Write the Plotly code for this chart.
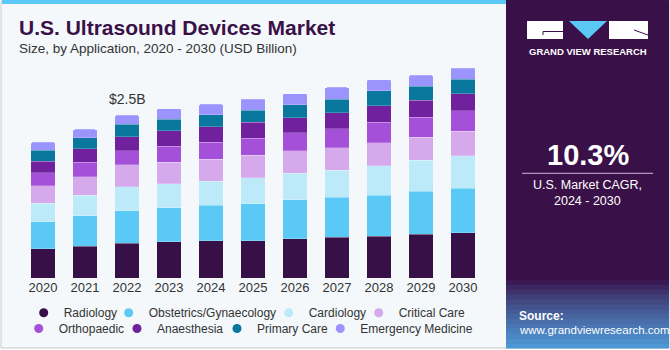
import plotly.graph_objects as go

years = ["2020", "2021", "2022", "2023", "2024", "2025", "2026", "2027", "2028", "2029", "2030"]
radiology = [0.45, 0.49, 0.54, 0.56, 0.58, 0.58, 0.61, 0.63, 0.65, 0.68, 0.70]
obstetrics = [0.42, 0.47, 0.50, 0.53, 0.55, 0.57, 0.60, 0.62, 0.63, 0.66, 0.69]
cardiology = [0.29, 0.32, 0.37, 0.37, 0.37, 0.40, 0.41, 0.42, 0.46, 0.48, 0.50]
critical_care = [0.27, 0.29, 0.34, 0.33, 0.34, 0.35, 0.35, 0.35, 0.35, 0.36, 0.38]
orthopaedic = [0.20, 0.22, 0.22, 0.25, 0.26, 0.26, 0.28, 0.29, 0.32, 0.31, 0.32]
anaesthesia = [0.18, 0.21, 0.22, 0.24, 0.24, 0.25, 0.23, 0.25, 0.26, 0.26, 0.26]
primary_care = [0.17, 0.17, 0.19, 0.18, 0.19, 0.19, 0.20, 0.21, 0.23, 0.22, 0.23]
emergency = [0.12, 0.13, 0.14, 0.16, 0.16, 0.17, 0.17, 0.18, 0.17, 0.17, 0.17]

series_names = ["Radiology", "Obstetrics/Gynaecology", "Cardiology", "Critical Care",
                "Orthopaedic", "Anaesthesia", "Primary Care", "Emergency Medicine"]
series_values = [radiology, obstetrics, cardiology, critical_care,
                 orthopaedic, anaesthesia, primary_care, emergency]
series_colors = ["#371047", "#5BC9F6", "#BDEAF9", "#D6A8EC",
                 "#A550D8", "#71219D", "#0A779E", "#9B94FC"]

highlight_year = "2022"
highlight_label = "$2.5B"
cagr_text = "10.3%"

W, H = 670, 350
L, R, T, B = 22, 484, 60, 278  # plot area in pixels


def px(x):
    return (x - L) / (R - L)


def py(y):
    return (B - y) / (B - T)


FONT = "Liberation Sans, Arial, sans-serif"
TXT = "#333333"
PURPLE = "#3A1048"

# legend entry placement (pixel text start, row centre)
legend_pos = [(61.7, 312.7), (146.7, 312.7), (306.7, 312.7), (396.7, 312.7),
              (56.7, 328.5), (155, 328.5), (255, 328.5), (358.3, 328.5)]

fig = go.Figure()
for name, vals, color in zip(series_names, series_values, series_colors):
    fig.add_trace(go.Bar(
        x=years, y=vals, name=name,
        marker=dict(color=color, line=dict(color="rgba(255,255,255,0.35)", width=0.6)),
        showlegend=False, hoverinfo="skip",
    ))
legend_layout = {}
for i, (name, color) in enumerate(zip(series_names, series_colors)):
    key = "legend" if i == 0 else "legend%d" % (i + 1)
    fig.add_trace(go.Scatter(
        x=[0], y=[None], mode="markers", name=name, legend=key, xaxis="x2", yaxis="y2",
        marker=dict(symbol="circle", size=9, color=color), showlegend=True, hoverinfo="skip",
    ))
    tx, ty = legend_pos[i]
    legend_layout[key] = dict(orientation="h", x=px(tx - 38), xanchor="left", y=py(ty), yanchor="middle",
                              font=dict(family=FONT, size=12, color=TXT), bgcolor="rgba(0,0,0,0)",
                              itemclick=False, itemdoubleclick=False, borderwidth=0)

totals = [sum(v[i] for v in series_values) for i in range(len(years))]
hi = years.index(highlight_year)

shapes = []
shapes.append(dict(type="rect", xref="paper", yref="paper", x0=px(1), x1=px(669), y0=py(1), y1=py(348),
                   fillcolor="#F4F8FB", line=dict(color="#C9C9C9", width=1), layer="below"))
shapes.append(dict(type="rect", xref="paper", yref="paper", x0=px(2), x1=px(506), y0=py(0), y1=py(4),
                   fillcolor="#5BC8F5", line=dict(width=0), layer="below"))
shapes.append(dict(type="rect", xref="paper", yref="paper", x0=px(506), x1=px(669), y0=py(0), y1=py(348),
                   fillcolor=PURPLE, line=dict(width=0), layer="below"))
c0 = (0x3A, 0x10, 0x48)
c1 = (0x4F, 0x9C, 0xDA)
steps = 14
y_start, y_end = 280, 348
for i in range(steps):
    f = ((i + 0.5) / steps) ** 0.8
    col = tuple(int(c0[k] + (c1[k] - c0[k]) * f) for k in range(3))
    ya = y_start + (y_end - y_start) * i / steps
    yb = y_start + (y_end - y_start) * (i + 1) / steps
    shapes.append(dict(type="rect", xref="paper", yref="paper", x0=px(506), x1=px(669), y0=py(ya), y1=py(yb + 0.5),
                       fillcolor="rgb(%d,%d,%d)" % col, line=dict(width=0), layer="below"))
shapes.append(dict(type="rect", xref="paper", yref="paper", x0=px(527), x1=px(563), y0=py(21), y1=py(39),
                   fillcolor="white", line=dict(width=0)))
shapes.append(dict(type="path", xref="paper", yref="paper",
                   path="M %f,%f L %f,%f L %f,%f Z" % (px(569), py(21), px(607), py(21), px(588), py(39)),
                   fillcolor="#5BC8F5", line=dict(width=0)))
shapes.append(dict(type="rect", xref="paper", yref="paper", x0=px(609), x1=px(648), y0=py(21), y1=py(39),
                   fillcolor="white", line=dict(width=0)))
shapes.append(dict(type="line", xref="paper", yref="paper", x0=px(543), x1=px(563), y0=py(31.5), y1=py(31.5),
                   line=dict(color=PURPLE, width=1)))
shapes.append(dict(type="line", xref="paper", yref="paper", x0=px(543), x1=px(543), y0=py(31.5), y1=py(35),
                   line=dict(color=PURPLE, width=1)))
shapes.append(dict(type="line", xref="paper", yref="paper", x0=px(634), x1=px(648), y0=py(30), y1=py(35),
                   line=dict(color=PURPLE, width=1)))
shapes.append(dict(type="line", xref="paper", yref="paper", x0=px(522), x1=px(653), y0=py(173.3), y1=py(173.3),
                   line=dict(color="rgba(230,215,240,0.85)", width=1)))

annotations = [
    dict(text="U.S. Ultrasound Devices Market", x=px(17), y=py(27.5), xanchor="left", yanchor="middle",
         font=dict(family=FONT, size=21, color=PURPLE, weight="bold")),
    dict(text="Size, by Application, 2020 - 2030 (USD Billion)", x=px(17), y=py(48.5), xanchor="left",
         yanchor="middle", font=dict(family=FONT, size=13.5, color=TXT)),
    dict(text="GRAND VIEW RESEARCH", x=px(587.5), y=py(51.5), xanchor="center", yanchor="middle",
         font=dict(family=FONT, size=9.5, color="white", weight="bold")),
    dict(text=cagr_text, x=px(587.5), y=py(155), xanchor="center", yanchor="middle",
         font=dict(family=FONT, size=29, color="white", weight="bold")),
    dict(text="U.S. Market CAGR,", x=px(587.5), y=py(185), xanchor="center", yanchor="middle",
         font=dict(family=FONT, size=12.5, color="white")),
    dict(text="2024 - 2030", x=px(587.5), y=py(201), xanchor="center", yanchor="middle",
         font=dict(family=FONT, size=12.5, color="white")),
    dict(text="Source:", x=px(517), y=py(315.7), xanchor="left", yanchor="middle",
         font=dict(family=FONT, size=12, color="white", weight="bold")),
    dict(text="www.grandviewresearch.com", x=px(517), y=py(330), xanchor="left", yanchor="middle",
         font=dict(family=FONT, size=11.5, color="white")),
    dict(text=highlight_label, x=hi, y=totals[hi], xref="x", yref="y", xanchor="center",
         yanchor="bottom", yshift=6, font=dict(family=FONT, size=14, color=TXT)),
]
for a in annotations:
    a.setdefault("xref", "paper")
    a.setdefault("yref", "paper")
    a["showarrow"] = False

fig.update_layout(
    width=W, height=H, autosize=False,
    margin=dict(l=L, r=W - R, t=T, b=H - B, pad=0, autoexpand=False),
    paper_bgcolor="white", plot_bgcolor="rgba(0,0,0,0)",
    barmode="stack", bargap=0.42, barcornerradius=2,
    font=dict(family=FONT, color=TXT),
    xaxis=dict(type="category", categoryorder="array", categoryarray=years, range=[-0.5, 10.5],
               showgrid=False, zeroline=False, showline=False, ticks="",
               tickfont=dict(family=FONT, size=13, color=TXT), fixedrange=True),
    yaxis=dict(range=[0, (B - T) / 64.6], visible=False, showgrid=False, fixedrange=True),
    xaxis2=dict(overlaying="x", visible=False, range=[0, 1], fixedrange=True),
    yaxis2=dict(overlaying="y", visible=False, range=[0, 1], fixedrange=True),
    shapes=shapes, annotations=annotations, showlegend=True,
    **legend_layout,
)

fig.write_html("out.html", config={"displayModeBar": False})
